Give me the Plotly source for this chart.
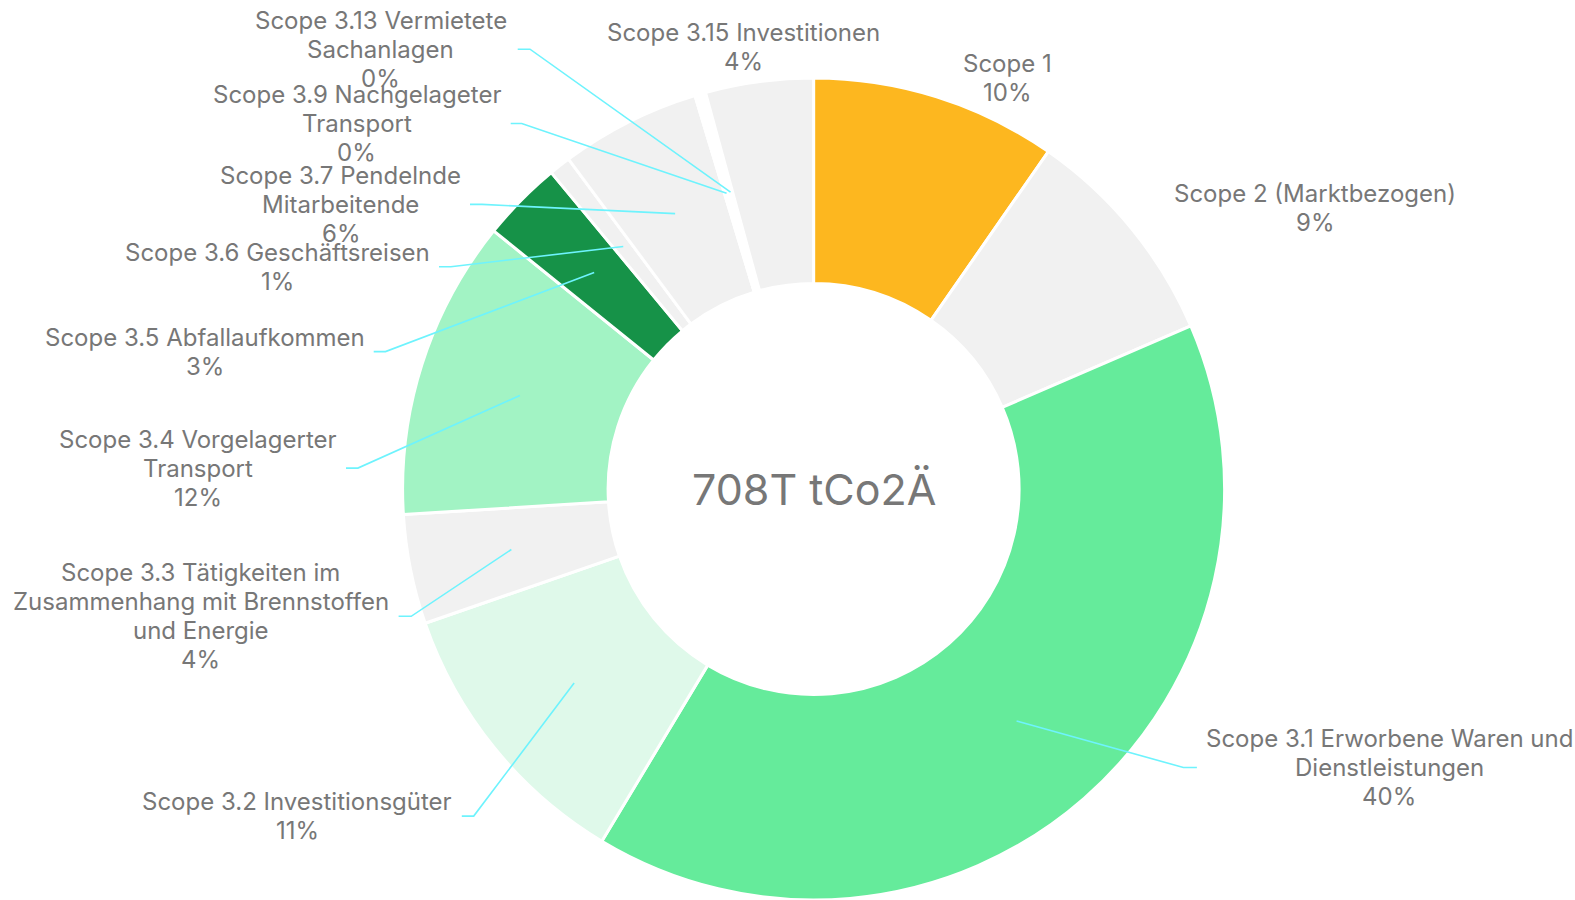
import math
import plotly.graph_objects as go

# ---- data ----
categories = [
    "Scope 1",
    "Scope 2 (Marktbezogen)",
    "Scope 3.1 Erworbene Waren und Dienstleistungen",
    "Scope 3.2 Investitionsgüter",
    "Scope 3.3 Tätigkeiten im Zusammenhang mit Brennstoffen und Energie",
    "Scope 3.4 Vorgelagerter Transport",
    "Scope 3.5 Abfallaufkommen",
    "Scope 3.6 Geschäftsreisen",
    "Scope 3.7 Pendelnde Mitarbeitende",
    "Scope 3.9 Nachgelageter Transport",
    "Scope 3.13 Vermietete Sachanlagen",
    "Scope 3.15 Investitionen",
]
label_lines = [
    ["Scope 1"],
    ["Scope 2 (Marktbezogen)"],
    ["Scope 3.1 Erworbene Waren und", "Dienstleistungen"],
    ["Scope 3.2 Investitionsgüter"],
    ["Scope 3.3 Tätigkeiten im", "Zusammenhang mit Brennstoffen", "und Energie"],
    ["Scope 3.4 Vorgelagerter", "Transport"],
    ["Scope 3.5 Abfallaufkommen"],
    ["Scope 3.6 Geschäftsreisen"],
    ["Scope 3.7 Pendelnde", "Mitarbeitende"],
    ["Scope 3.9 Nachgelageter", "Transport"],
    ["Scope 3.13 Vermietete", "Sachanlagen"],
    ["Scope 3.15 Investitionen"],
]
values_t = [68.5, 62.5, 284, 78.5, 30.5, 83.5, 22.5, 6, 39, 1.5, 1.5, 30]  # thousand tCO2e
center_text = "708T tCo2Ä"

# ---- style ----
slice_colors = ["#FDB71F", "#F1F1F1", "#65EB9B", "#DFF9EA", "#F1F1F1", "#A2F3C4",
                "#169248", "#F1F1F1", "#F1F1F1", "#FFFFFF", "#FFFFFF", "#F1F1F1"]
W, H = 1575, 900
CX, CY, R, HOLE = 813.6, 489.0, 411.0, 0.5
TEXT_COLOR = "#777777"
LINE_COLOR = "#6EF3FD"
FONT = "Inter, 'Open Sans', sans-serif"
LINE_H = 29.1
# label layout in px: block centre x, block centre y, leader end x, leader elbow x (None = no leader)
label_layout = [
    (1007.5, 77.8, None, None),
    (1314.9, 208.4, None, None),
    (1389.2, 767.5, 1196.9, 1183.4),
    (297.3, 816.1, 461.8, 473.7),
    (200.9, 616.3, 398.6, 411.2),
    (197.9, 468.1, 346.0, 357.9),
    (204.9, 351.6, 373.7, 385.5),
    (277.2, 266.7, 439.0, 450.8),
    (340.5, 204.4, 470.0, 482.0),
    (356.6, 123.5, 510.7, 521.7),
    (380.7, 49.2, 517.7, 530.0),
    (743.3, 47.2, None, None),
]


def px(x, y):
    return x / W, 1 - y / H


fig = go.Figure()
fig.add_trace(go.Pie(
    labels=categories, values=values_t, sort=False, direction="clockwise",
    rotation=0, hole=HOLE, textinfo="none", showlegend=False,
    marker=dict(colors=slice_colors, line=dict(color="white", width=3)),
    domain=dict(x=[(CX - R) / W, (CX + R) / W],
                y=[max(0, 1 - (CY + R) / H), min(1, 1 - (CY - R) / H)]),
))

total = sum(values_t)
annotations, shapes = [], []
cum = 0.0
for lines, v, (bx, by, ex, elx) in zip(label_lines, values_t, label_layout):
    pct = v / total
    mid = (cum + pct / 2) * 2 * math.pi
    cum += pct
    rows = lines + [f"{round(pct * 100)}%"]
    n = len(rows)
    for i, row in enumerate(rows):
        yy = by + (i - (n - 1) / 2) * LINE_H
        ax_, ay_ = px(bx, yy)
        annotations.append(dict(
            x=ax_, y=ay_, xref="paper", yref="paper", showarrow=False,
            text=row, xanchor="center", yanchor="middle",
            font=dict(family=FONT, size=24, color=TEXT_COLOR),
        ))
    if ex is not None:
        rt = R * (1 + HOLE) / 2
        tx = CX + rt * math.sin(mid)
        ty = CY - rt * math.cos(mid)
        p0, p1, p2 = px(tx, ty), px(elx, by), px(ex, by)
        path = f"M {p0[0]},{p0[1]} L {p1[0]},{p1[1]} L {p2[0]},{p2[1]}"
        shapes.append(dict(type="path", path=path, xref="paper", yref="paper",
                           line=dict(color=LINE_COLOR, width=1.6), layer="above"))

cx_, cy_ = px(CX, CY)
annotations.append(dict(
    x=cx_, y=cy_, xref="paper", yref="paper", showarrow=False,
    text=center_text, xanchor="center", yanchor="middle",
    font=dict(family=FONT, size=43, color=TEXT_COLOR),
))

fig.update_layout(
    width=W, height=H, margin=dict(l=0, r=0, t=0, b=0),
    paper_bgcolor="white", plot_bgcolor="white",
    annotations=annotations, shapes=shapes,
)
fig.write_html(
    "out.html",
    config={"displayModeBar": False},
    post_script="document.body.style.margin='0';document.body.style.overflow='hidden';",
)
